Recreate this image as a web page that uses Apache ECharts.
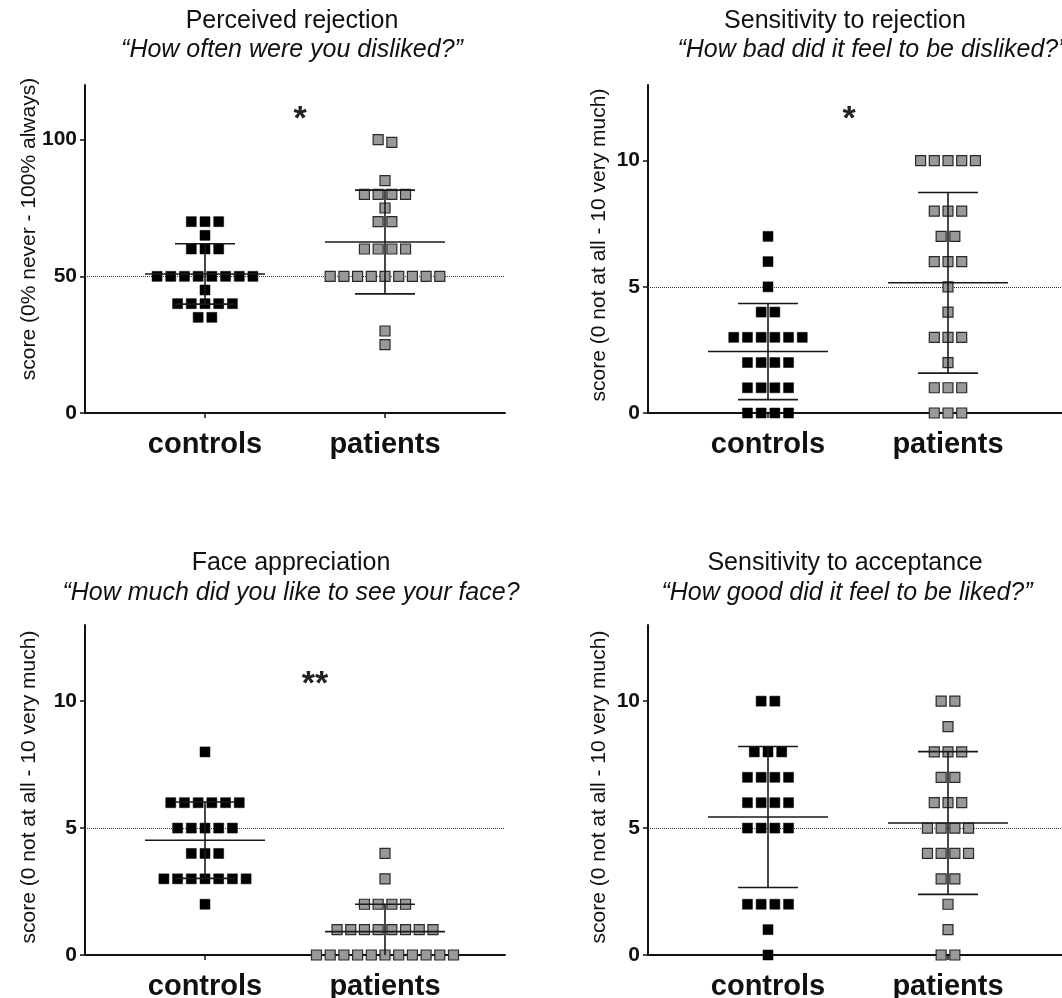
<!DOCTYPE html>
<html><head><meta charset="utf-8">
<script src="https://cdn.jsdelivr.net/npm/echarts@6/dist/echarts.min.js"></script>
<style>html,body{margin:0;padding:0;background:#fff}#c{width:1062px;height:998px}</style>
</head><body><div id="c"></div>
<script>
// ---------------- DATA ----------------
const groups = ['controls', 'patients'];

const perceivedControls = [70,70,70,65,60,60,60,50,50,50,50,50,50,50,50,45,40,40,40,40,40,35,35];
const perceivedPatients = [100,99,85,80,80,80,80,75,70,70,60,60,60,60,50,50,50,50,50,50,50,50,50,30,25];

const rejSensControls = [7,6,5,4,4,3,3,3,3,3,3,2,2,2,2,1,1,1,1,0,0,0,0];
const rejSensPatients = [10,10,10,10,10,8,8,8,7,7,6,6,6,5,4,3,3,3,2,1,1,1,0,0,0];

const faceControls = [8,6,6,6,6,6,6,5,5,5,5,5,4,4,4,3,3,3,3,3,3,3,2];
const facePatients = [4,3,2,2,2,2,1,1,1,1,1,1,1,1,0,0,0,0,0,0,0,0,0,0,0];

const accSensControls = [10,10,8,8,8,7,7,7,7,6,6,6,6,5,5,5,5,2,2,2,2,1,0];
const accSensPatients = [10,10,9,8,8,8,7,7,6,6,6,5,5,5,5,4,4,4,4,3,3,2,1,0,0];

const panelTitles = ['Perceived rejection', 'Sensitivity to rejection', 'Face appreciation', 'Sensitivity to acceptance'];
const panelQuestions = ['\u201cHow often were you disliked?\u201d', '\u201cHow bad did it feel to be disliked?\u201d',
                        '\u201cHow much did you like to see your face?', '\u201cHow good did it feel to be liked?\u201d'];
const yAxisNames = ['score (0% never - 100% always)', 'score (0 not at all - 10 very much)',
                    'score (0 not at all - 10 very much)', 'score (0 not at all - 10 very much)'];
const yTicksPercent = [0, 50, 100];
const yTicksScore = [0, 5, 10];
const yMaxPercent = 120;
const yMaxScore = 13;
const referenceLines = [50, 5, 5, 5];
const significance = ['*', '*', '**', ''];

// ---------------- LAYOUT / STYLE ----------------
const panelData = [
  [perceivedControls, perceivedPatients],
  [rejSensControls, rejSensPatients],
  [faceControls, facePatients],
  [accSensControls, accSensPatients]
];
const yTicks = [yTicksPercent, yTicksScore, yTicksScore, yTicksScore];
const yMax = [yMaxPercent, yMaxScore, yMaxScore, yMaxScore];
const grids = [
  {left: 85, top: 85, width: 420, height: 328},
  {left: 648, top: 85, width: 420, height: 328},
  {left: 85, top: 625, width: 420, height: 330},
  {left: 648, top: 625, width: 420, height: 330}
];
const X_MIN = -2/3, X_MAX = 5/3;
const PX_PER_X = 420 / (X_MAX - X_MIN);
const DOT_SPACING = 13.7 / PX_PER_X;
const MEAN_HALF = 60 / PX_PER_X;
const CAP_HALF = 30 / PX_PER_X;
const SYM = 10;
const FONT = '"Liberation Sans", Arial, Helvetica, sans-serif';

function mean(a){ return a.reduce((s,v)=>s+v,0)/a.length; }
function sd(a){ const m=mean(a); return Math.sqrt(a.reduce((s,v)=>s+(v-m)*(v-m),0)/(a.length-1)); }

// place points of similar value side by side in rows (dot-plot layout)
function layout(values, gi, ymax, hpx){
  const thr = ymax * SYM / hpx;
  const sorted = values.slice().sort((a,b)=>b-a);
  const rows = [];
  sorted.forEach(v=>{
    const r = rows[rows.length-1];
    if (r && Math.abs(r[0]-v) < thr) r.push(v); else rows.push([v]);
  });
  const pts = [];
  rows.forEach(r=>{
    r.forEach((v,i)=>{ pts.push([gi + (i-(r.length-1)/2)*DOT_SPACING, v]); });
  });
  return pts;
}

function errRender(params, api){
  const x = api.value(0), m = api.value(1), s = api.value(2);
  const c = (a,b)=>api.coord([a,b]);
  const ln = (p1,p2)=>({type:'line', shape:{x1:p1[0],y1:p1[1],x2:p2[0],y2:p2[1]},
                         style:{stroke:'#1a1a1a', lineWidth:1.6}});
  return {type:'group', children:[
    ln(c(x-MEAN_HALF,m), c(x+MEAN_HALF,m)),
    ln(c(x,m-s), c(x,m+s)),
    ln(c(x-CAP_HALF,m+s), c(x+CAP_HALF,m+s)),
    ln(c(x-CAP_HALF,m-s), c(x+CAP_HALF,m-s))
  ]};
}

const xAxis = [], yAxis = [], series = [], graphic = [];
grids.forEach((g,i)=>{
  xAxis.push({
    type:'value', gridIndex:i, min:X_MIN, max:X_MAX,
    axisLine:{onZero:false, lineStyle:{color:'#111', width:2}},
    axisTick:{show:true, customValues:[0,1], length:5, lineStyle:{color:'#111', width:1.5}},
    axisLabel:{show:true, customValues:[0,1], formatter:v=>groups[Math.round(v)],
               fontFamily:FONT, fontWeight:'bold', fontSize:29, color:'#111', margin:17},
    splitLine:{show:false}
  });
  yAxis.push({
    type:'value', gridIndex:i, min:0, max:yMax[i],
    axisLine:{show:true, onZero:false, lineStyle:{color:'#111', width:2}},
    axisTick:{show:true, customValues:yTicks[i], length:5, lineStyle:{color:'#111', width:1.5}},
    axisLabel:{customValues:yTicks[i], fontFamily:FONT, fontWeight:'bold', fontSize:21, color:'#111', margin:8},
    splitLine:{show:false}
  });
  const [ctl, pat] = panelData[i];
  series.push({
    type:'scatter', xAxisIndex:i, yAxisIndex:i, clip:false, symbol:'rect', symbolSize:SYM,
    data: layout(ctl, 0, yMax[i], g.height),
    itemStyle:{color:'#000', borderColor:'#000', borderWidth:0.5, opacity:1},
    z:3,
    markLine:{silent:true, symbol:'none', label:{show:false},
              lineStyle:{type:'dotted', color:'#333', width:1},
              data:[{yAxis:referenceLines[i]}], z:1}
  });
  series.push({
    type:'scatter', xAxisIndex:i, yAxisIndex:i, clip:false, symbol:'rect', symbolSize:SYM,
    data: layout(pat, 1, yMax[i], g.height),
    itemStyle:{color:'#999', borderColor:'#2a2a2a', borderWidth:1.2, opacity:1},
    z:3
  });
  series.push({
    type:'custom', xAxisIndex:i, yAxisIndex:i, clip:true, z:5,
    renderItem: errRender,
    data:[[0, mean(ctl), sd(ctl)], [1, mean(pat), sd(pat)]]
  });
});

// titles, questions, y names, significance marks
const titlePos = [[292, 21], [845, 21], [291, 563], [845, 563]];
const questionPos = [[292, 50], [872, 50], [291, 593], [847, 593]];
const yNamePos = [[29, 229], [599, 245], [29, 787], [599, 787]];
const sigPos = [[300, 120], [849, 120], [315, 685], [0, 0]];
for (let i=0;i<4;i++){
  graphic.push({type:'text', x:titlePos[i][0], y:titlePos[i][1],
    style:{text:panelTitles[i], font:'25px '+FONT, fill:'#111', textAlign:'center', textVerticalAlign:'middle'}});
  graphic.push({type:'text', x:questionPos[i][0], y:questionPos[i][1],
    style:{text:panelQuestions[i], font:'italic 25px '+FONT, fill:'#111', textAlign:'center', textVerticalAlign:'middle'}});
  graphic.push({type:'text', x:yNamePos[i][0], y:yNamePos[i][1], rotation:Math.PI/2,
    style:{text:yAxisNames[i], font:'21px '+FONT, fill:'#111', textAlign:'center', textVerticalAlign:'middle'}});
  if (significance[i]) graphic.push({type:'text', x:sigPos[i][0], y:sigPos[i][1],
    style:{text:significance[i], font:'bold 34px '+FONT, fill:'#222', textAlign:'center', textVerticalAlign:'middle'}});
}

const chart = echarts.init(document.getElementById('c'), null, {renderer:'canvas'});
chart.setOption({
  backgroundColor:'#fff', animation:false,
  grid: grids.map(g=>Object.assign({containLabel:false, outerBoundsMode:'none'}, g)),
  xAxis, yAxis, series, graphic
});
</script></body></html>
